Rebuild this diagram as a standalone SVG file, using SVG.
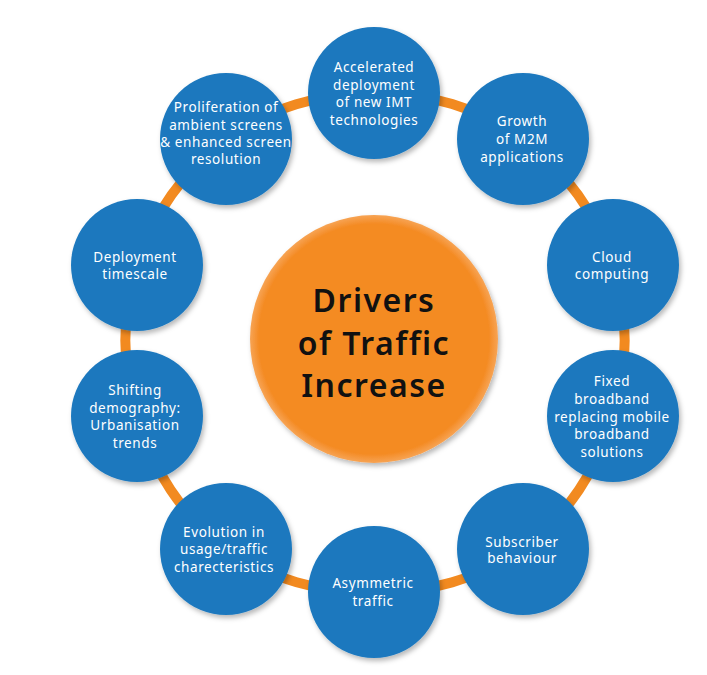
<svg xmlns="http://www.w3.org/2000/svg" width="707" height="675" viewBox="0 0 707 675">
<defs>
<filter id="sh" x="-20%" y="-20%" width="150%" height="150%">
<feDropShadow dx="2" dy="3" stdDeviation="2.5" flood-color="#000" flood-opacity="0.28"/>
</filter>
<radialGradient id="og" cx="50%" cy="50%" r="50%">
<stop offset="0.93" stop-color="#F48B24"/>
<stop offset="1" stop-color="#F7A455"/>
</radialGradient>
</defs>
<style>
.node circle{fill:#1B78BE;filter:url(#sh)}
.node text{fill:#fff;font-family:"Noto Sans","Open Sans",sans-serif;font-size:13.5px;letter-spacing:0.6px;text-anchor:middle}
.conn path{fill:none;stroke:#F28A20;stroke-width:10}
.title{fill:#111;font-family:"Noto Sans","Open Sans",sans-serif;font-size:32px;font-weight:600;letter-spacing:1.5px;text-anchor:middle}
</style>
<rect width="707" height="675" fill="#fff"/>
<g id="connectors" class="conn">
<path d="M374,93 A250,250 0 0 1 523,139"/>
<path d="M523,139 A250,250 0 0 1 613,265"/>
<path d="M613,265 A250,250 0 0 1 613,416"/>
<path d="M613,416 A250,250 0 0 1 523,549"/>
<path d="M523,549 A250,250 0 0 1 374,592"/>
<path d="M374,592 A250,250 0 0 1 226,549"/>
<path d="M226,549 A250,250 0 0 1 137,416"/>
<path d="M137,416 A250,250 0 0 1 137,265"/>
<path d="M137,265 A250,250 0 0 1 226,139"/>
<path d="M226,139 A250,250 0 0 1 374,93"/>
</g>
<g id="center">
<circle cx="374" cy="339" r="124" fill="url(#og)" filter="url(#sh)"/>
<text class="title" x="374" y="312">Drivers</text>
<text class="title" x="374" y="355">of Traffic</text>
<text class="title" x="374" y="397">Increase</text>
</g>
<g id="n1" class="node"><circle cx="374" cy="93" r="66"/>
<text x="374" y="72">Accelerated</text><text x="374" y="89.5">deployment</text><text x="374" y="107">of new IMT</text><text x="374" y="124.5">technologies</text></g>
<g id="n2" class="node"><circle cx="523" cy="139" r="66"/>
<text x="522" y="126">Growth</text><text x="522" y="144">of M2M</text><text x="522" y="162">applications</text></g>
<g id="n3" class="node"><circle cx="613" cy="265" r="66"/>
<text x="612" y="262">Cloud</text><text x="612" y="279">computing</text></g>
<g id="n4" class="node"><circle cx="613" cy="416" r="66"/>
<text x="612" y="386">Fixed</text><text x="612" y="403.5">broadband</text><text x="612" y="421.5">replacing mobile</text><text x="612" y="439">broadband</text><text x="612" y="456.5">solutions</text></g>
<g id="n5" class="node"><circle cx="523" cy="549" r="66"/>
<text x="522" y="546.5">Subscriber</text><text x="522" y="563">behaviour</text></g>
<g id="n6" class="node"><circle cx="374" cy="592" r="66"/>
<text x="373" y="588">Asymmetric</text><text x="373" y="605.5">traffic</text></g>
<g id="n7" class="node"><circle cx="226" cy="549" r="66"/>
<text x="224" y="537">Evolution in</text><text x="224" y="554">usage/traffic</text><text x="224" y="571.5">charecteristics</text></g>
<g id="n8" class="node"><circle cx="137" cy="416" r="66"/>
<text x="135" y="395">Shifting</text><text x="135" y="412.5">demography:</text><text x="135" y="430">Urbanisation</text><text x="135" y="447.5">trends</text></g>
<g id="n9" class="node"><circle cx="137" cy="265" r="66"/>
<text x="135" y="262">Deployment</text><text x="135" y="279">timescale</text></g>
<g id="n10" class="node"><circle cx="226" cy="139" r="66"/>
<text x="226" y="112">Proliferation of</text><text x="226" y="129.5">ambient screens</text><text x="226" y="147">&amp; enhanced screen</text><text x="226" y="164">resolution</text></g>
</svg>
